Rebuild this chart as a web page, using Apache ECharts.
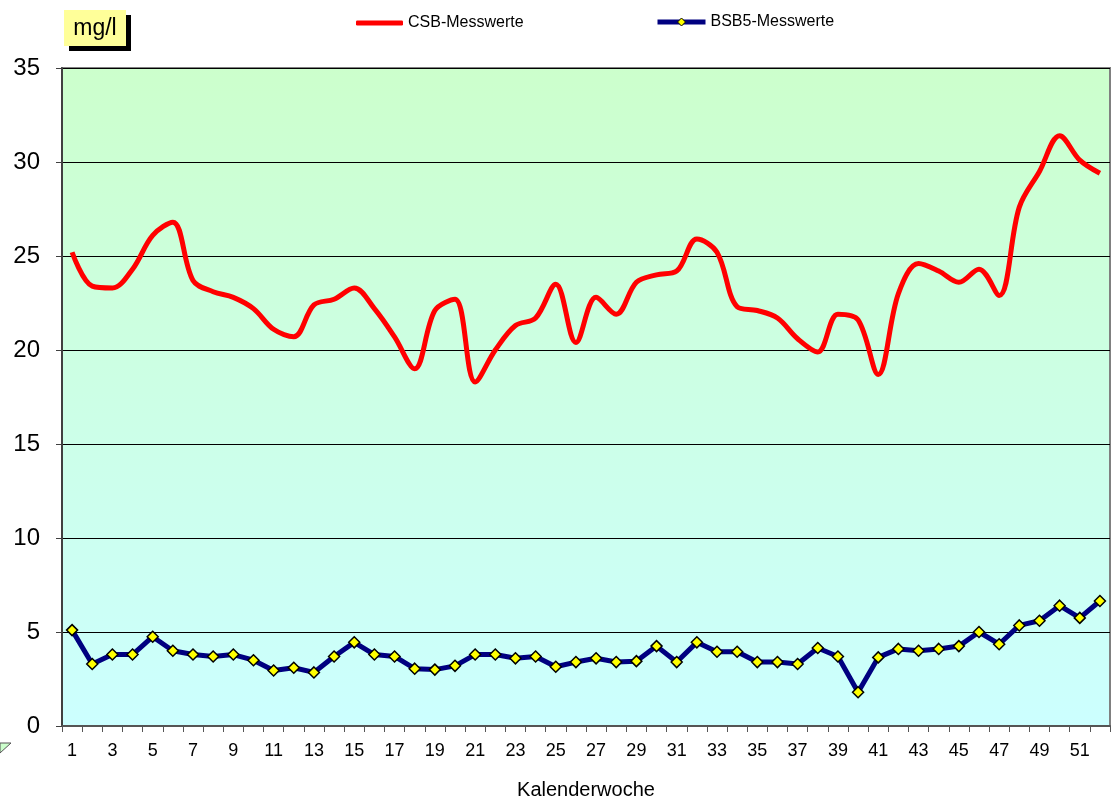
<!DOCTYPE html>
<html>
<head>
<meta charset="utf-8">
<script src="https://cdn.jsdelivr.net/npm/echarts@6/dist/echarts.min.js"></script>
<style>
html,body{margin:0;padding:0;background:#fff;overflow:hidden;}
#c{width:1111px;height:801px;}
</style>
</head>
<body>
<div id="c"></div>
<script>
const weeks = Array.from({length:52}, (_, i) => String(i + 1));
const csbValues = [25.2,23.4,23.3,24.3,26.1,26.8,23.7,23.1,22.8,22.2,21.1,20.7,22.4,22.7,23.3,22.2,20.7,19.0,22.1,22.7,18.3,20.0,21.3,21.7,23.5,20.4,22.8,21.9,23.6,24.0,24.2,25.9,25.2,22.3,22.1,21.7,20.6,19.9,21.9,21.6,18.7,23.0,24.6,24.2,23.6,24.3,22.9,27.6,29.5,31.4,30.1,29.4];
const bsbValues = [5.1,3.3,3.8,3.8,4.75,4.0,3.8,3.7,3.8,3.5,2.95,3.1,2.85,3.7,4.45,3.8,3.7,3.05,3.0,3.2,3.8,3.8,3.6,3.7,3.15,3.4,3.6,3.4,3.45,4.25,3.4,4.45,3.95,3.95,3.4,3.4,3.3,4.15,3.7,1.8,3.65,4.1,4.0,4.1,4.25,5.0,4.35,5.35,5.6,6.4,5.75,6.65];
const seriesNames = ['CSB-Messwerte','BSB5-Messwerte'];
const yTicks = {min:0, max:35, interval:5};
const unitLabel = 'mg/l';
const xAxisName = 'Kalenderwoche';

const chart = echarts.init(document.getElementById('c'), null, {renderer:'canvas', width:1111, height:801});
const font = 'Arial, "Liberation Sans", sans-serif';
chart.setOption({
  animation:false,
  backgroundColor:'#ffffff',
  grid:{
    left:62, right:1, top:68, bottom:75, show:true,
    containLabel:false, outerBoundsMode:'none',
    borderColor:'#808080', borderWidth:2,
    backgroundColor:new echarts.graphic.LinearGradient(0,0,0,1,[
      {offset:0,color:'#ccffcc'},{offset:1,color:'#ccffff'}
    ])
  },
  legend:[
    {data:[{name:seriesNames[0], icon:'roundRect'}], left:351, top:10, itemWidth:47, itemHeight:5, itemGap:3,
     textStyle:{fontFamily:font,fontSize:16,color:'#000'}},
    {data:[seriesNames[1]], left:650, top:9, itemWidth:48, itemHeight:10, itemGap:3,
     lineStyle:{width:5,color:'#000080'},
     itemStyle:{color:'#ffff00',borderColor:'#000',borderWidth:1},
     textStyle:{fontFamily:font,fontSize:16,color:'#000'}}
  ],
  xAxis:{
    type:'category', data:weeks, boundaryGap:true,
    name:xAxisName, nameLocation:'middle', nameGap:54,
    nameTextStyle:{fontFamily:font,fontSize:20,color:'#000'},
    axisLine:{lineStyle:{color:'#555',width:2}},
    axisTick:{show:true,interval:0,length:6,lineStyle:{color:'#555',width:1}},
    axisLabel:{interval:1,fontFamily:font,fontSize:18,color:'#000',margin:16},
    splitLine:{show:false}
  },
  yAxis:{
    type:'value', min:yTicks.min, max:yTicks.max, interval:yTicks.interval,
    axisLine:{show:true,lineStyle:{color:'#404040',width:2}},
    axisTick:{show:true,length:6,lineStyle:{color:'#404040',width:1}},
    axisLabel:{fontFamily:font,fontSize:24,color:'#000',margin:22},
    splitLine:{show:true,lineStyle:{color:'#000',width:1}}
  },
  series:[
    {name:seriesNames[0], type:'line', data:csbValues, smooth:0.35,
     showSymbol:false, symbol:'none',
     lineStyle:{color:'#ff0000',width:5}, itemStyle:{color:'#ff0000'}, z:3},
    {name:seriesNames[1], type:'line', data:bsbValues, smooth:false,
     symbol:'diamond', symbolSize:11,
     lineStyle:{color:'#000080',width:5},
     itemStyle:{color:'#ffff00',borderColor:'#000',borderWidth:1.5}, z:4}
  ],
  graphic:[
    {type:'rect', shape:{x:69,y:15,width:62,height:36}, style:{fill:'#000'}},
    {type:'rect', shape:{x:64,y:10,width:62,height:36}, style:{fill:'#ffff99'}},
    {type:'text', x:95, y:29, style:{text:unitLabel, fontFamily:font, fontSize:23, fill:'#000', align:'center', verticalAlign:'middle'}},
    {type:'polygon', shape:{points:[[0,743],[11,743],[0,753]]}, style:{fill:'#ccffcc',stroke:'#555',lineWidth:1}}
  ]
});
</script>
</body>
</html>
